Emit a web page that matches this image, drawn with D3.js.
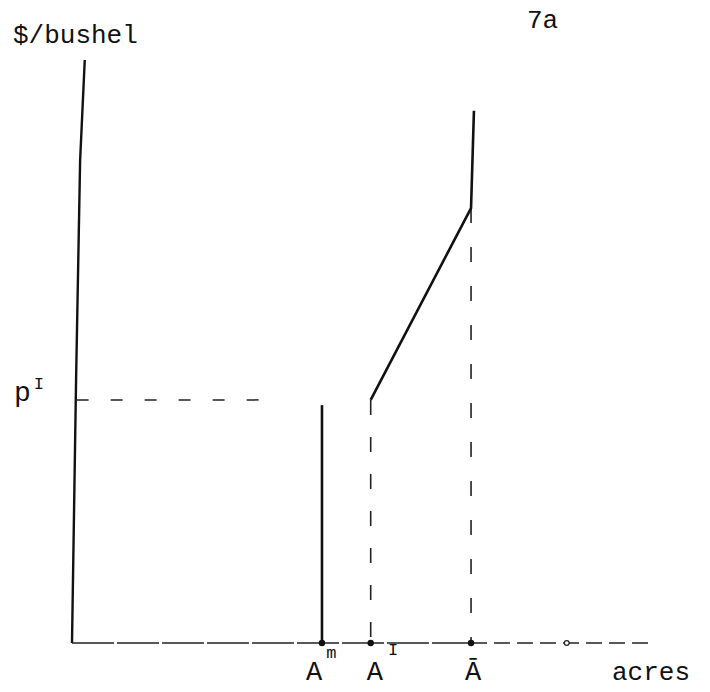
<!DOCTYPE html>
<html>
<head>
<meta charset="utf-8">
<script src="https://cdn.jsdelivr.net/npm/d3@7"></script>
<style>
  html, body { margin: 0; padding: 0; background: #fff; }
  svg text { font-family: "Liberation Mono", "DejaVu Sans Mono", monospace; fill: #111; }
</style>
</head>
<body>
<svg id="chart" width="710" height="692"></svg>
<script>
// Acreage positions on the horizontal axis (arbitrary units, 0-100)
const acreNames  = ["A^m", "A^I", "Ā"];
const acreValues = [43.1, 51.5, 68.8];
const acreOpenMark = 85.3;          // small open circle further out the axis

// Price level p^I on the vertical axis (arbitrary units, 0-100)
const priceName  = "p^I";
const priceValue = 41.7;
const priceGuideEnd = 32.8;         // dashed guide from the axis ends here

// Supply schedule pieces
const verticalAtAm = [ {a: 43.1, p: 0}, {a: 43.1, p: 40.8} ];
const upperBranch  = [ {a: 51.5, p: 41.7}, {a: 68.8, p: 74.6}, {a: 69.3, p: 91.3} ];

// Hand-drawn vertical axis (leans slightly)
const yAxisTrace = [ {a: 0, p: 0}, {a: 0.7, p: 45}, {a: 1.4, p: 82.8}, {a: 2.2, p: 100} ];

const svg = d3.select("#chart");
const x = d3.scaleLinear().domain([0, 100]).range([72, 652]);
const y = d3.scaleLinear().domain([0, 100]).range([643, 60]);
const line = d3.line().x(d => x(d.a)).y(d => y(d.p));

// vertical axis
svg.append("path").datum(yAxisTrace).attr("d", line)
  .attr("fill", "none").attr("stroke", "#111").attr("stroke-width", 2.4);

// horizontal axis: near-solid to A-bar, dashed beyond
svg.append("line")
  .attr("x1", x(0)).attr("x2", x(acreValues[2])).attr("y1", y(0)).attr("y2", y(0))
  .attr("stroke", "#222").attr("stroke-width", 1.6).attr("stroke-dasharray", "42,3");
svg.append("line")
  .attr("x1", x(acreValues[2])).attr("x2", x(100)).attr("y1", y(0)).attr("y2", y(0))
  .attr("stroke", "#222").attr("stroke-width", 1.4).attr("stroke-dasharray", "16,7");

// dashed guide at p^I
svg.append("line")
  .attr("x1", x(0.8)).attr("x2", x(priceGuideEnd)).attr("y1", y(priceValue)).attr("y2", y(priceValue))
  .attr("stroke", "#222").attr("stroke-width", 1.5).attr("stroke-dasharray", "12,22");

// dashed drop lines at A^I and A-bar
svg.append("line")
  .attr("x1", x(acreValues[1])).attr("x2", x(acreValues[1]))
  .attr("y1", y(priceValue)).attr("y2", y(0))
  .attr("stroke", "#222").attr("stroke-width", 1.6).attr("stroke-dasharray", "15,22");
svg.append("line")
  .attr("x1", x(acreValues[2])).attr("x2", x(acreValues[2]))
  .attr("y1", y(upperBranch[1].p)).attr("y2", y(0))
  .attr("stroke", "#222").attr("stroke-width", 1.6).attr("stroke-dasharray", "15,24");

// supply schedule
svg.append("path").datum(verticalAtAm).attr("d", line)
  .attr("fill", "none").attr("stroke", "#111").attr("stroke-width", 2.6);
svg.append("path").datum(upperBranch).attr("d", line)
  .attr("fill", "none").attr("stroke", "#111").attr("stroke-width", 2.6)
  .attr("stroke-linejoin", "miter");

// axis points
svg.selectAll("circle.pt").data(acreValues).join("circle")
  .attr("class", "pt").attr("cx", d => x(d)).attr("cy", y(0)).attr("r", 3.2)
  .attr("fill", "#111");
svg.append("circle").attr("cx", x(acreOpenMark)).attr("cy", y(0)).attr("r", 2.4)
  .attr("fill", "#fff").attr("stroke", "#222").attr("stroke-width", 1.2);

// labels
const fs = 26;
svg.append("text").attr("x", 13).attr("y", 43).attr("font-size", fs).text("$/bushel");
svg.append("text").attr("x", 527).attr("y", 28).attr("font-size", fs).text("7a");
svg.append("text").attr("x", 612).attr("y", 680).attr("font-size", fs).text("acres");

// p^I
const pl = svg.append("text").attr("x", 14).attr("y", y(priceValue) + 1).attr("font-size", 28);
pl.append("tspan").text(priceName.split("^")[0]);
pl.append("tspan").attr("dy", -12).attr("dx", 3).attr("font-size", 17).text(priceName.split("^")[1]);

// acreage labels
const labelOffsets = [-16, -4, -6];
const supShift = { m: { dy: -22, dx: 4 }, I: { dy: -25, dx: 5 } };
acreNames.forEach((name, i) => {
  const parts = name.split("^");
  const t = svg.append("text").attr("x", x(acreValues[i]) + labelOffsets[i]).attr("y", 680)
    .attr("font-size", 27);
  t.append("tspan").text(parts[0]);
  if (parts[1]) {
    t.append("tspan").attr("dy", supShift[parts[1]].dy).attr("dx", supShift[parts[1]].dx)
      .attr("font-size", 17).text(parts[1]);
  }
});
</script>
</body>
</html>
